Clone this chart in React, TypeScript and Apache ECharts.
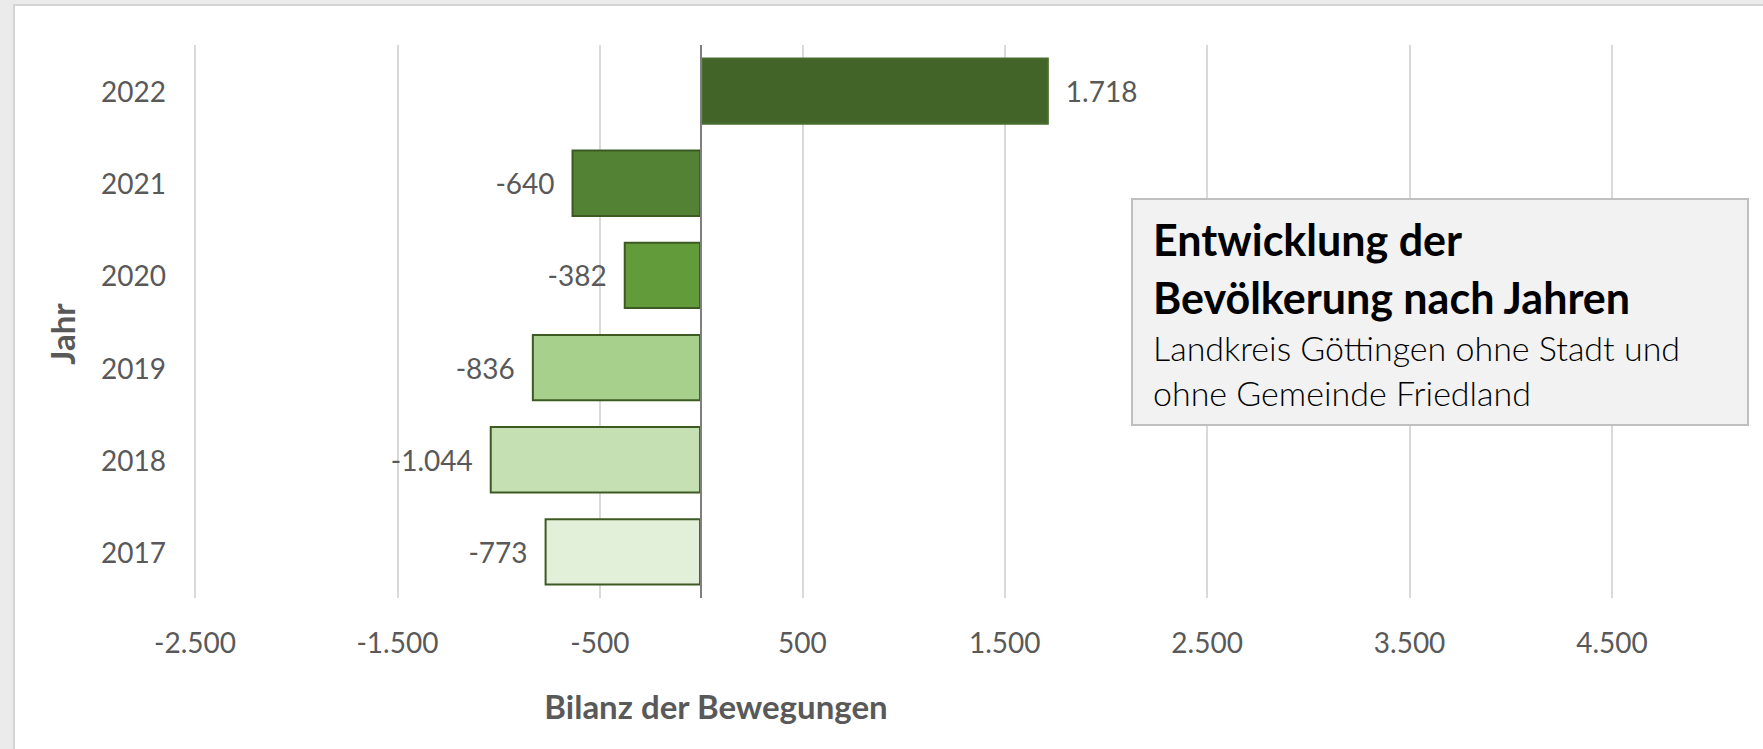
import React, { useEffect, useRef } from "react";
import * as echarts from "echarts";

const years = ["2017", "2018", "2019", "2020", "2021", "2022"];
const balance = [-773, -1044, -836, -382, -640, 1718];
const barColors = ["#E2EFD9", "#C5E0B3", "#A8D08D", "#629B3A", "#548235", "#426428"];
const xTicksMin = -2500;
const xTicksMax = 4500;
const xTickStep = 1000;
const titleLines = ["Entwicklung der", "Bevölkerung nach Jahren"];
const subtitleLines = ["Landkreis Göttingen ohne Stadt und", "ohne Gemeinde Friedland"];
const xAxisTitle = "Bilanz der Bewegungen";
const yAxisTitle = "Jahr";

const FONT = "Lato, 'Open Sans', sans-serif";

function fmtDE(v: number): string {
  const neg = v < 0;
  const s = Math.abs(Math.round(v)).toString();
  const parts: string[] = [];
  for (let i = s.length; i > 0; i -= 3) parts.unshift(s.slice(Math.max(0, i - 3), i));
  return (neg ? "-" : "") + parts.join(".");
}

export default function App() {
  const ref = useRef<HTMLDivElement>(null);
  useEffect(() => {
    if (!ref.current) return;
    const chart = echarts.init(ref.current, undefined, { renderer: "svg" });
    const data = balance.map((v, i) => ({
      value: v,
      itemStyle: {
        color: barColors[i],
        borderColor: i === 5 ? "#4a6c30" : "#3d5a22",
        borderWidth: 2,
      },
      label: { position: v < 0 ? "left" : "right" },
    }));
    chart.setOption({
      animation: false,
      backgroundColor: "#ebebeb",
      graphic: [
        {
          type: "rect",
          z: -10,
          shape: { x: 14, y: 5, width: 1763, height: 760 },
          style: { fill: "#ffffff", stroke: "#d4d4d4", lineWidth: 2 },
          silent: true,
        },
        {
          type: "rect",
          z: 10,
          shape: { x: 1132, y: 199, width: 616, height: 226 },
          style: { fill: "#f2f2f2", stroke: "#bfbfbf", lineWidth: 2 },
        },
        {
          type: "text",
          z: 11,
          x: 1153,
          y: 239,
          style: {
            text: titleLines[0],
            font: `bold 43px ${FONT}`,
            fill: "#000000",
            verticalAlign: "middle",
          },
        },
        {
          type: "text",
          z: 11,
          x: 1153,
          y: 297,
          style: {
            text: titleLines[1],
            font: `bold 43px ${FONT}`,
            fill: "#000000",
            verticalAlign: "middle",
          },
        },
        {
          type: "text",
          z: 11,
          x: 1153,
          y: 347,
          style: {
            text: subtitleLines[0],
            font: `300 34px ${FONT}`,
            fill: "#000000",
            verticalAlign: "middle",
          },
        },
        {
          type: "text",
          z: 11,
          x: 1153,
          y: 392,
          style: {
            text: subtitleLines[1],
            font: `300 34px ${FONT}`,
            fill: "#000000",
            verticalAlign: "middle",
          },
        },
        {
          type: "text",
          x: 716,
          y: 706,
          style: {
            text: xAxisTitle,
            font: `bold 33px ${FONT}`,
            fill: "#595959",
            align: "center",
            verticalAlign: "middle",
          },
        },
        {
          type: "text",
          x: 62,
          y: 334,
          rotation: Math.PI / 2,
          style: {
            text: yAxisTitle,
            font: `bold 33px ${FONT}`,
            fill: "#595959",
            align: "center",
            verticalAlign: "middle",
          },
        },
      ],
      grid: { left: 195, right: 151, top: 45, bottom: 151, containLabel: false },
      xAxis: {
        type: "value",
        min: xTicksMin,
        max: xTicksMax,
        interval: xTickStep,
        axisLine: { show: false },
        axisTick: { show: false },
        splitLine: { show: true, lineStyle: { color: "#d9d9d9", width: 2 } },
        axisLabel: {
          formatter: (v: number) => fmtDE(v),
          color: "#595959",
          fontFamily: FONT,
          fontSize: 28,
          margin: 30,
        },
      },
      yAxis: {
        type: "category",
        data: years,
        axisLine: { show: false },
        axisTick: { show: false },
        splitLine: { show: false },
        axisLabel: {
          color: "#595959",
          fontFamily: FONT,
          fontSize: 28,
          margin: 29,
        },
      },
      series: [
        {
          type: "bar",
          data,
          barCategoryGap: "27%",
          label: {
            show: true,
            distance: 17,
            color: "#595959",
            fontFamily: FONT,
            fontSize: 28,
            formatter: (p: any) => fmtDE(p.value),
          },
          markLine: {
            silent: true,
            symbol: "none",
            label: { show: false },
            lineStyle: { color: "#7f7f7f", width: 2, type: "solid" },
            data: [{ xAxis: 0 }],
          },
        },
      ],
    });
    return () => chart.dispose();
  }, []);
  return (
    <div
      ref={ref}
      style={{ position: "fixed", left: 0, top: 0, width: 1763, height: 749 }}
    />
  );
}
